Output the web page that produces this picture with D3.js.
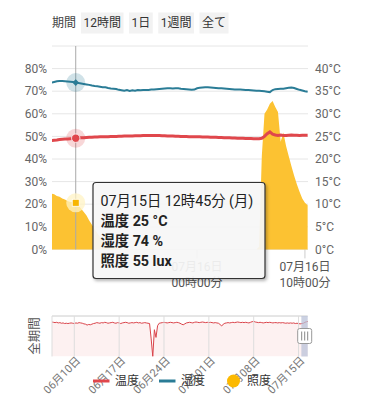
<!DOCTYPE html>
<html><head><meta charset="utf-8">
<script src="https://cdn.jsdelivr.net/npm/d3@7"></script>
<style>
html,body{margin:0;padding:0;background:#fff;}
svg{display:block;font-family:Roboto,"Noto Sans CJK JP",sans-serif;}
</style></head>
<body><svg id="c" width="365" height="400"></svg>
<script>
// ---------- data ----------
const periodLabel = "期間";
const periodButtons = ["12時間","1日","1週間","全て"];
const mainStart = new Date(2024,6,15,10,30);   // first sample, 15-min steps
const stepMinutes = 15;
const humidity = [73.8,74.1,74.4,74.5,74.5,74.4,74.3,74.2,74.1,73.8,73.6,73.4,73.2,73.0,72.8,72.5,72.3,72.2,72.0,71.8,
  71.7,71.4,71.2,71.1,71.0,70.6,70.4,70.2,70.5,70.1,70.4,70.2,70.5,70.4,70.5,70.5,70.5,70.7,70.8,70.9,
  71.0,71.1,71.2,71.3,71.3,71.2,71.3,71.3,71.1,71.0,70.9,70.8,70.6,70.7,71.3,71.5,71.6,71.7,71.7,71.6,
  71.5,71.4,71.3,71.3,71.2,71.1,71.0,70.9,70.8,70.7,70.7,70.6,70.5,70.5,70.4,70.3,70.2,70.2,70.1,70.0,
  69.8,69.6,70.5,70.9,71.0,71.1,71.1,71.3,71.5,71.6,71.4,71.0,70.6,70.3,70.0,69.8];
const temperature = [24.05,24.15,24.2,24.3,24.35,24.4,24.45,24.5,24.55,24.6,24.65,24.7,24.7,24.75,24.8,24.8,24.85,24.85,24.9,24.9,
  24.95,24.95,25.0,25.0,25.0,25.05,25.05,25.1,25.1,25.1,25.1,25.15,25.15,25.15,25.2,25.2,25.2,25.2,25.2,25.2,
  25.2,25.15,25.15,25.1,25.1,25.1,25.05,25.05,25.0,25.0,25.0,24.95,24.95,24.9,24.9,24.9,24.85,24.85,24.85,24.8,
  24.8,24.8,24.75,24.75,24.7,24.7,24.7,24.65,24.65,24.6,24.6,24.6,24.55,24.55,24.55,24.5,24.5,24.5,24.6,25.0,
  25.6,26.0,25.5,25.3,25.2,25.3,25.2,25.2,25.25,25.3,25.25,25.25,25.2,25.25,25.25,25.25];
const illuminance = [66,65,63,62,60,59,57,56,56,55,52,48,44,40,34,29,24,19,15,11,
  8,6,4,3,2,1,0,0,0,0,0,0,0,0,0,0,0,0,0,0,
  0,0,0,0,0,0,0,0,0,0,0,0,0,0,0,0,0,0,0,0,
  0,0,0,0,0,0,0,0,0,0,0,0,0,0,0,0,0,3,110,160,
  165,172,175,168,162,127,138,122,110,98,87,77,68,60,55,52];
const tooltipIndex = 9;
const pctTicks = [0,10,20,30,40,50,60,70,80];
const tempTicks = [0,5,10,15,20,25,30,35,40];
const mainTickTimes = [new Date(2024,6,16,0,0), new Date(2024,6,16,10,0)];

// navigator (whole period, 6-hour steps)
const navStart = new Date(2024,5,6,12,0);
const navStepHours = 6;
const navTemperature = [25.0,24.9,24.8,24.9,24.7,24.8,24.6,24.7,24.5,24.6,
  24.5,24.6,24.7,24.6,24.5,24.7,24.6,24.8,24.7,24.6,
  24.4,24.3,24.0,24.2,24.1,24.3,24.5,24.6,24.8,24.7,
  24.6,24.8,24.7,24.9,24.8,24.6,24.7,24.8,24.9,24.7,
  24.6,24.8,24.7,24.5,24.7,24.8,24.9,24.8,24.6,24.7,
  24.8,24.7,24.8,24.9,24.7,24.8,24.6,24.7,24.8,24.7,
  24.6,24.5,19.5,13.8,22.5,20.0,23.8,24.6,24.7,24.8,
  24.9,24.8,24.7,24.8,24.9,24.8,24.7,24.8,24.9,24.8,
  24.6,24.3,24.1,24.4,24.7,24.8,24.9,24.8,24.7,24.9,
  25.0,24.9,24.8,24.9,25.0,24.9,24.8,24.9,24.8,24.9,
  24.8,24.7,24.8,24.7,24.6,24.2,23.7,24.3,24.6,24.7,
  24.8,24.7,24.8,24.9,24.8,24.9,25.0,24.9,24.8,24.9,
  24.8,24.9,24.8,24.7,24.9,25.1,25.2,25.0,24.9,24.8,
  24.9,24.8,24.7,24.8,24.9,24.8,24.9,24.8,24.7,24.8,
  24.8,24.7,24.8,24.7,24.8,24.7,24.6,24.7,24.6,24.7,
  24.6,24.7,24.5,24.6,24.5,24.4,24.5,24.6,24.9,25.1,25.2];
const navTickTimes = [new Date(2024,5,10),new Date(2024,5,17),new Date(2024,5,24),new Date(2024,6,1),new Date(2024,6,8),new Date(2024,6,15)];
const navLabel = "全期間";
const legendItems = [{name:"温度",type:"line",color:"#e0474c"},{name:"湿度",type:"line",color:"#2a7c96"},{name:"照度",type:"dot",color:"#fcb900"}];

// ---------- setup ----------
const C_TEMP="#e0474c", C_HUM="#2a7c96", C_LUX="#fcc232";
const svg = d3.select("#c");
const times = humidity.map((_,i)=>d3.timeMinute.offset(mainStart, i*stepMinutes));
const navTimes = navTemperature.map((_,i)=>d3.timeHour.offset(navStart, i*navStepHours));

const L=52, R=308, T=46, B=249.4;
const x = d3.scaleTime().domain([new Date(2024,6,15,10,33), new Date(2024,6,16,10,17)]).range([L,R]);
const yPct = d3.scaleLinear().domain([0,90]).range([B,T]);
const yTemp = d3.scaleLinear().domain([0,45]).range([B,T]);
const yLux = d3.scaleLinear().domain([0,240]).range([B,T]);

const defs = svg.append("defs");
defs.append("clipPath").attr("id","clipMain").append("rect").attr("x",L).attr("y",T-10).attr("width",R-L).attr("height",B-T+12);
const f = defs.append("filter").attr("id","shadow").attr("x","-10%").attr("y","-10%").attr("width","130%").attr("height","130%");
f.append("feDropShadow").attr("dx",1.5).attr("dy",2).attr("stdDeviation",1.5).attr("flood-color","#000").attr("flood-opacity",0.3);

// ---------- period buttons ----------
const btnG = svg.append("g");
btnG.append("text").attr("x",52).attr("y",27).attr("font-size",12).attr("fill","#444").text(periodLabel);
let bx = 81;
periodButtons.forEach(b=>{
  const t = btnG.append("text").attr("y",27).attr("font-size",12).attr("fill","#333").text(b);
  t.attr("x", bx+2.5);
  const w = t.node().getComputedTextLength()+5;
  btnG.insert("rect","text").attr("x",bx).attr("y",12.5).attr("width",w).attr("height",21).attr("fill","#f2f2f2");
  bx += w + 5.5;
});

// ---------- grid ----------
const grid = svg.append("g");
d3.range(0,100,10).forEach(v=>{
  grid.append("line").attr("x1",L).attr("x2",R).attr("y1",yPct(v)).attr("y2",yPct(v))
    .attr("stroke","#e6e6e6").attr("stroke-width",1);
});

// axes labels
const ax = svg.append("g").attr("font-size",12).attr("fill","#666");
pctTicks.forEach(v=>ax.append("text").attr("x",47).attr("y",yPct(v)).attr("dy","0.35em").attr("text-anchor","end").text(v+"%"));
tempTicks.forEach(v=>ax.append("text").attr("x",315).attr("y",yTemp(v)).attr("dy","0.35em").text(v+"°C"));
mainTickTimes.forEach(t=>{
  const xx = x(t);
  ax.append("line").attr("x1",xx).attr("x2",xx).attr("y1",B).attr("y2",B+9).attr("stroke","#ccc");
  ax.append("text").attr("x",xx).attr("y",271).attr("text-anchor","middle").attr("fill","#555").text(d3.timeFormat("%m月%d日")(t));
  ax.append("text").attr("x",xx).attr("y",287).attr("text-anchor","middle").attr("fill","#555").text(d3.timeFormat("%H時%M分")(t));
});

// ---------- series ----------
const plot = svg.append("g").attr("clip-path","url(#clipMain)");
plot.append("path").datum(illuminance)
  .attr("d", d3.area().x((d,i)=>x(times[i])).y0(B).y1(d=>yLux(d)))
  .attr("fill",C_LUX);
const cx = x(times[tooltipIndex]);
plot.append("line").attr("x1",cx).attr("x2",cx).attr("y1",T).attr("y2",B).attr("stroke","#aaa").attr("stroke-width",1);
plot.append("path").datum(humidity)
  .attr("d", d3.line().x((d,i)=>x(times[i])).y(d=>yPct(d)))
  .attr("fill","none").attr("stroke",C_HUM).attr("stroke-width",2);
plot.append("path").datum(temperature)
  .attr("d", d3.line().x((d,i)=>x(times[i])).y(d=>yTemp(d)))
  .attr("fill","none").attr("stroke",C_TEMP).attr("stroke-width",3);

// markers
const mk = svg.append("g");
const hy = yPct(humidity[tooltipIndex]), ty = yTemp(temperature[tooltipIndex]), ly = yLux(illuminance[tooltipIndex]);
mk.append("circle").attr("cx",cx).attr("cy",hy).attr("r",9.5).attr("fill",C_HUM).attr("fill-opacity",0.22);
mk.append("path").attr("d",d3.symbol(d3.symbolDiamond2,28)()).attr("transform",`translate(${cx},${hy})`).attr("fill",C_HUM);
mk.append("circle").attr("cx",cx).attr("cy",ty).attr("r",9.5).attr("fill",C_TEMP).attr("fill-opacity",0.22);
mk.append("circle").attr("cx",cx).attr("cy",ty).attr("r",4.2).attr("fill",C_TEMP).attr("stroke","#fff").attr("stroke-width",0.8);
mk.append("circle").attr("cx",cx).attr("cy",ly).attr("r",9.5).attr("fill","#fff3c4").attr("fill-opacity",0.75);
mk.append("rect").attr("x",cx-3.5).attr("y",ly-3.5).attr("width",7).attr("height",7).attr("fill","#f7b500").attr("stroke","#fff").attr("stroke-width",0.8);

// ---------- tooltip ----------
const tt = svg.append("g");
tt.append("rect").attr("x",93).attr("y",182.5).attr("width",172).attr("height",96).attr("rx",3)
  .attr("fill","rgba(250,250,250,0.9)").attr("stroke","#333").attr("stroke-width",1.2).attr("filter","url(#shadow)");
const td = times[tooltipIndex];
const dow = "日月火水木金土"[td.getDay()];
const ttLines = [
  {t: d3.timeFormat("%m月%d日 %H時%M分")(td)+" ("+dow+")", w:400},
  {t: "温度 "+Math.round(temperature[tooltipIndex])+" °C", w:700},
  {t: "湿度 "+Math.round(humidity[tooltipIndex])+" %", w:700},
  {t: "照度 "+Math.round(illuminance[tooltipIndex])+" lux", w:700}
];
ttLines.forEach((l,i)=>tt.append("text").attr("x",100.5).attr("y",206+i*20).attr("font-size",14.3)
  .attr("font-weight",l.w).attr("fill","#222").text(l.t));

// ---------- navigator ----------
const NL=52, NR=307.7, NT=316, NB=356.5;
const nx = d3.scaleTime().domain([new Date(2024,5,6,12,30), new Date(2024,6,16,10,17)]).range([NL,NR]);
const ny = d3.scaleLinear().domain([d3.min(navTemperature), 26.3]).range([NB,318]);
defs.append("clipPath").attr("id","clipNav").append("rect").attr("x",NL).attr("y",NT).attr("width",NR-NL).attr("height",NB-NT);
const nav = svg.append("g");
nav.append("line").attr("x1",NL).attr("x2",NR).attr("y1",NT).attr("y2",NT).attr("stroke","#ccc");
const navPlot = nav.append("g").attr("clip-path","url(#clipNav)");
navPlot.append("path").datum(navTemperature)
  .attr("d", d3.area().x((d,i)=>nx(navTimes[i])).y0(NB).y1(d=>ny(d))).attr("fill","#fdf1f1");
navTickTimes.concat([nx.domain()[0]]).forEach(t=>{
  nav.append("line").attr("x1",nx(t)).attr("x2",nx(t)).attr("y1",NT).attr("y2",NB).attr("stroke","#ddd");
});
navPlot.append("path").datum(navTemperature)
  .attr("d", d3.line().x((d,i)=>nx(navTimes[i])).y(d=>ny(d))).attr("fill","none").attr("stroke","#d9434a").attr("stroke-width",1);
// selected window
const sx0 = nx(x.domain()[0]), sx1 = nx(x.domain()[1]);
nav.append("rect").attr("x",sx0).attr("y",NT).attr("width",sx1-sx0).attr("height",NB-NT).attr("fill","#b9c2d8").attr("fill-opacity",0.75);
const hx = sx1-3;
nav.append("rect").attr("x",hx-7).attr("y",328.5).attr("width",14).attr("height",15).attr("rx",2).attr("fill","#fff").attr("stroke","#999");
[-3,0,3].forEach(d=>nav.append("line").attr("x1",hx+d).attr("x2",hx+d).attr("y1",331.5).attr("y2",340.5).attr("stroke","#888"));
nav.append("text").attr("transform","translate(39,336) rotate(-90)").attr("text-anchor","middle").attr("font-size",12.5).attr("fill","#555").text(navLabel);
navTickTimes.forEach(t=>{
  nav.append("text").attr("transform",`translate(${nx(t)+1},${NB-1}) rotate(-45)`).attr("text-anchor","end").attr("dy","0.75em")
    .attr("font-size",11).attr("fill","#777").text(d3.timeFormat("%m月%d日")(t));
});

// ---------- legend ----------
const lg = svg.append("g").attr("font-size",12).attr("fill","#333");
const legX = [93, 159, 227];
legendItems.forEach((it,i)=>{
  const g = lg.append("g").attr("transform",`translate(${legX[i]},381)`);
  if(it.type==="line"){
    g.append("line").attr("x1",0).attr("x2",16.5).attr("stroke",it.color).attr("stroke-width",3);
    g.append("text").attr("x",22).attr("dy","0.35em").text(it.name);
  } else {
    g.append("circle").attr("cx",6.5).attr("r",6.5).attr("fill",it.color);
    g.append("text").attr("x",20).attr("dy","0.35em").text(it.name);
  }
});
</script></body></html>
